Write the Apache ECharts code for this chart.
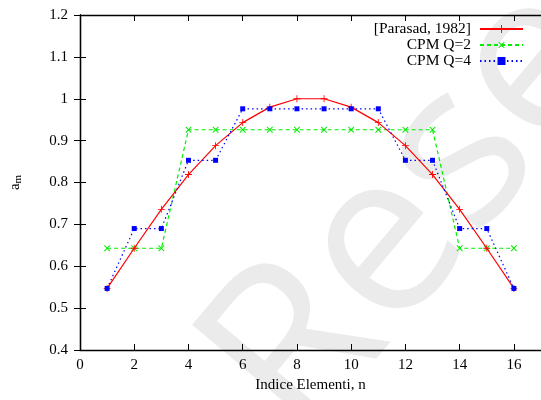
<!DOCTYPE html>
<html>
<head>
<meta charset="utf-8">
<script src="https://cdn.jsdelivr.net/npm/echarts@6/dist/echarts.min.js"></script>
<style>
  html, body { margin: 0; padding: 0; background: #fff; }
  #chart { width: 541px; height: 400px; }
</style>
</head>
<body>
<div id="chart"></div>
<script>
// Element index n along the array
const elementIndex = [1, 2, 3, 4, 5, 6, 7, 8, 9, 10, 11, 12, 13, 14, 15, 16];

// Excitation amplitudes a_m
const parasad1982 = [0.547, 0.643, 0.736, 0.819, 0.888, 0.943, 0.980, 1.000,
                     1.000, 0.980, 0.943, 0.888, 0.819, 0.736, 0.643, 0.547];
const cpmQ2 = [0.643, 0.643, 0.643, 0.926, 0.926, 0.926, 0.926, 0.926,
               0.926, 0.926, 0.926, 0.926, 0.926, 0.643, 0.643, 0.643];
const cpmQ4 = [0.547, 0.690, 0.690, 0.853, 0.853, 0.976, 0.976, 0.976,
               0.976, 0.976, 0.976, 0.853, 0.853, 0.690, 0.690, 0.547];

const seriesNames = ['[Parasad, 1982]', 'CPM Q=2', 'CPM Q=4'];

const pairs = vals => elementIndex.map((n, i) => [n, vals[i]]);

const FONT = '"Liberation Serif", "Times New Roman", serif';
const PLUS = 'path://M-0.6,-5H0.6V-0.6H5V0.6H0.6V5H-0.6V0.6H-5V-0.6H-0.6Z';

const chart = echarts.init(document.getElementById('chart'), null, { renderer: 'canvas' });

const tickStyle = { show: true, inside: true, length: 6, lineStyle: { color: '#000', width: 1 } };
const lineAxis = { show: true, lineStyle: { color: '#000', width: 1.3 } };

chart.setOption({
  animation: false,
  backgroundColor: '#fff',
  graphic: [{
    type: 'text',
    x: 340,
    y: 478,
    rotation: 50 * Math.PI / 180,
    z: -10,
    silent: true,
    style: {
      text: 'Rese',
      font: '500 228px "Open Sans"',
      fill: '#ebebeb',
      textVerticalAlign: 'bottom'
    }
  }],
  grid: { left: 80, right: -2, top: 15, bottom: 50, containLabel: false },
  legend: {
    orient: 'vertical',
    right: 17,
    top: 21,
    padding: 0,
    align: 'right',
    itemWidth: 43,
    itemHeight: 10,
    itemGap: 0,
    data: seriesNames,
    textStyle: { fontFamily: FONT, fontSize: 15.5, color: '#000', lineHeight: 16, padding: [0, 4, 0, 0] }
  },
  xAxis: [{
    type: 'value',
    min: 0, max: 17, interval: 2,
    name: 'Indice Elementi, n',
    nameLocation: 'middle',
    nameGap: 27,
    nameTextStyle: { fontFamily: FONT, fontSize: 15, color: '#000' },
    axisLine: lineAxis,
    axisTick: tickStyle,
    splitLine: { show: false },
    axisLabel: { fontFamily: FONT, fontSize: 15, color: '#000', margin: 8, showMaxLabel: false,
                 formatter: v => (v === 17 ? '' : String(v)) }
  }, {
    type: 'value',
    position: 'top',
    min: 0, max: 17, interval: 2,
    axisLine: lineAxis,
    axisTick: tickStyle,
    splitLine: { show: false },
    axisLabel: { show: false }
  }],
  yAxis: [{
    type: 'value',
    min: 0.4, max: 1.2, interval: 0.1,
    name: 'a{sub|m}',
    nameLocation: 'middle',
    nameGap: 56,
    nameRotate: 90,
    nameTextStyle: {
      fontFamily: FONT, fontSize: 15, color: '#000',
      rich: { sub: { fontFamily: FONT, fontSize: 11, color: '#000', verticalAlign: 'bottom', padding: [6, 0, 0, 0] } }
    },
    axisLine: lineAxis,
    axisTick: tickStyle,
    splitLine: { show: false },
    axisLabel: { fontFamily: FONT, fontSize: 15, color: '#000', margin: 12,
                 formatter: v => String(Math.round(v * 10) / 10) }
  }, {
    type: 'value',
    position: 'right',
    min: 0.4, max: 1.2, interval: 0.1,
    axisLine: lineAxis,
    axisTick: tickStyle,
    splitLine: { show: false },
    axisLabel: { show: false }
  }],
  series: [{
    name: seriesNames[0],
    type: 'line',
    data: pairs(parasad1982),
    symbol: PLUS,
    symbolSize: 7,
    itemStyle: { color: '#ff0000' },
    lineStyle: { color: '#ff0000', width: 1.2, type: 'solid' },
    z: 3
  }, {
    name: seriesNames[1],
    type: 'line',
    data: pairs(cpmQ2),
    symbol: PLUS,
    symbolRotate: 45,
    symbolSize: 8,
    itemStyle: { color: '#00ee00' },
    lineStyle: { color: '#00ee00', width: 1.2, type: [4, 3] },
    z: 2
  }, {
    name: seriesNames[2],
    type: 'line',
    data: pairs(cpmQ4),
    symbol: 'rect',
    symbolSize: 5,
    itemStyle: { color: '#0000ff' },
    lineStyle: { color: '#0000ff', width: 1.2, type: [1.5, 3] },
    z: 4
  }]
});
</script>
</body>
</html>
